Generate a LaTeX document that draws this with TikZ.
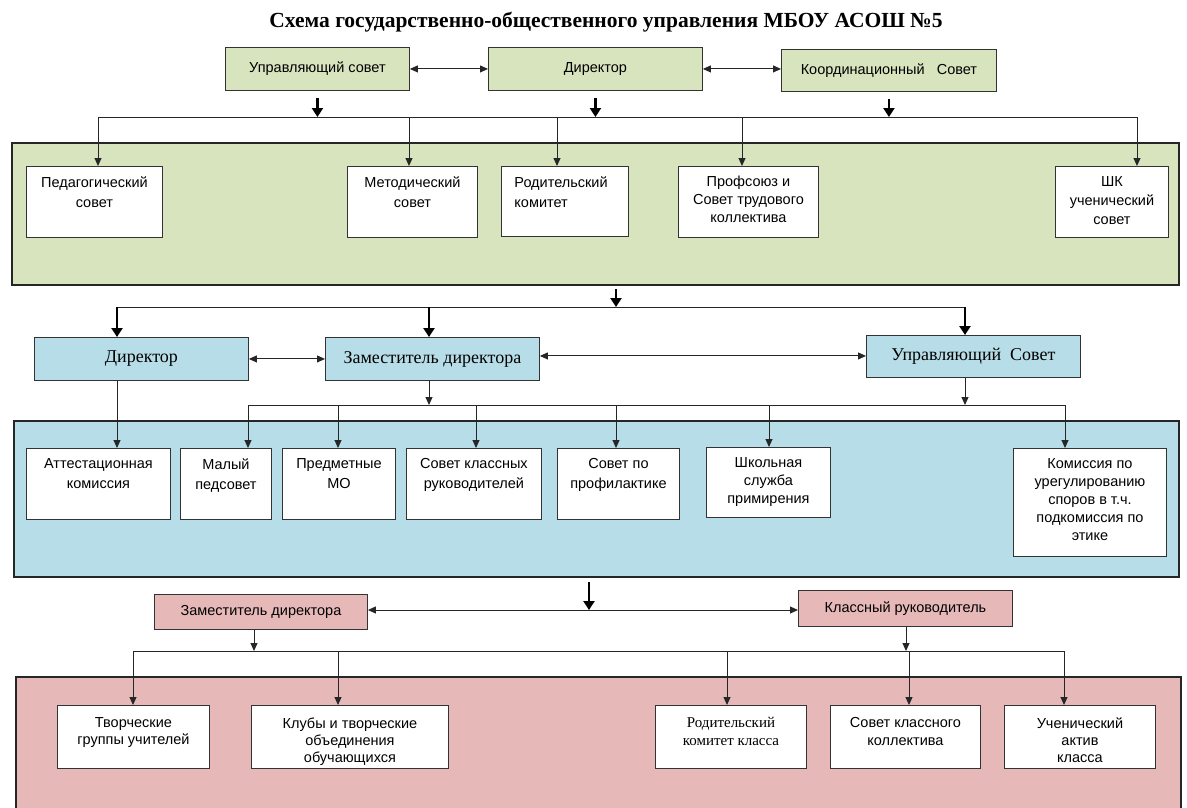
\documentclass[tikz,border=0pt]{standalone}
\usepackage{fontspec}
\setmainfont{Liberation Serif}
\newfontfamily\arialf{Liberation Sans}
\usetikzlibrary{arrows.meta}
\definecolor{gfill}{HTML}{D7E4BD}
\definecolor{bfill}{HTML}{B7DDE8}
\definecolor{pfill}{HTML}{E6B9B8}
\newcommand\topgap{10pt}
\newcommand\bxt[4]{\parbox[t][#2pt][t]{#1pt}{\centering\arialf\fontsize{14.5}{#4}\selectfont\vspace*{\topgap}#3}}
\newcommand\bxl[4]{\parbox[t][#2pt][t]{#1pt}{\raggedright\arialf\fontsize{14.5}{#4}\selectfont\vspace*{\topgap}\leftskip=13pt #3}}
\newcommand\bxs[4]{\parbox[t][#2pt][t]{#1pt}{\centering\fontsize{15}{#4}\selectfont\vspace*{\topgap}#3}}
\tikzset{
  band/.style={draw=black!85, line width=2pt, inner sep=0pt, anchor=north west},
  wbox/.style={draw=black!80, fill=white, line width=0.9pt, inner sep=0pt, anchor=north west},
  cbox/.style={draw=black!80, line width=0.9pt, inner sep=0pt, anchor=north west},
  arialtext/.style={font=\arialf\fontsize{14.5}{17}\selectfont},
  seriftext/.style={font=\fontsize{18}{21}\selectfont},
  conn/.style={draw=black!85, line width=1pt},
  arr/.style={conn, -{Triangle[length=8pt,width=7pt]}},
  darr/.style={conn, {Triangle[length=8pt,width=7pt]}-{Triangle[length=8pt,width=7pt]}},
  bigarr/.style={draw=black, line width=2.8pt, -{Triangle[length=9pt,width=11pt]}},
}
\begin{document}
\begin{tikzpicture}[x=1pt,y=-1pt]
\useasboundingbox (0,0) rectangle (1187,807);

% title
\node[font=\bfseries\fontsize{21.5}{25}\selectfont] (title) at (606,22)
  {Схема государственно-общественного управления МБОУ АСОШ №5};

% top row
\node[cbox, fill=gfill, arialtext, minimum width=184pt, minimum height=43pt] (ups1) at (225,47) {Управляющий совет};
\node[cbox, fill=gfill, arialtext, minimum width=214pt, minimum height=43pt] (dir1) at (488,47) {Директор};
\node[cbox, fill=gfill, arialtext, minimum width=215pt, minimum height=42pt] (koord) at (781,49) {Координационный\ \ \ Совет};
\draw[darr] (ups1.east) -- (ups1.east -| dir1.west);
\draw[darr] (dir1.east) -- (dir1.east -| koord.west);

% bus 1
\coordinate (b1l) at (98,117);
\coordinate (b1r) at (1137,117);
\draw[conn] (b1l) -- (b1r);
\foreach \n in {ups1,dir1,koord}
  \draw[bigarr] ([yshift=-7pt]\n.south) -- (\n.south |- b1l);

% green band
\node[band, fill=gfill, minimum width=1167pt, minimum height=142pt] (gband) at (11,142) {};
\node[wbox] (ped) at (26,166) {\bxt{136}{71}{Педагогический\\совет}{20}};
\node[wbox] (met) at (347,166) {\bxt{130}{71}{Методический\\совет}{20}};
\node[wbox] (rod) at (501,166) {\bxl{127}{70}{Родительский\\комитет}{20}};
\node[wbox] (prof) at (678,166) {\bxt{140}{71}{Профсоюз и\\Совет трудового\\коллектива}{18}};
\node[wbox] (shk) at (1055,166) {\bxt{113}{71}{ШК\\ученический\\совет}{19}};
\coordinate (d1) at (409,117);
\coordinate (d2) at (557,117);
\coordinate (d3) at (742,117);
\draw[arr] (b1l) -- (b1l |- ped.north);
\draw[arr] (d1) -- (d1 |- met.north);
\draw[arr] (d2) -- (d2 |- rod.north);
\draw[arr] (d3) -- (d3 |- prof.north);
\draw[arr] (b1r) -- (b1r |- shk.north);

% bus 2
\coordinate (b2l) at (117,307);
\coordinate (b2m) at (616,307);
\coordinate (b2z) at (429,307);
\coordinate (b2r) at (965,307);
\draw[conn] (b2l) -- (b2r);
\draw[bigarr] ([yshift=-3pt]b2m |- gband.south) -- (b2m);

% middle row
\node[cbox, fill=bfill, seriftext, minimum width=214pt, minimum height=43pt] (dir2) at (34,337) {Директор};
\node[cbox, fill=bfill, seriftext, minimum width=214pt, minimum height=43pt] (zam) at (325,337) {Заместитель директора};
\node[cbox, fill=bfill, seriftext, minimum width=214pt, minimum height=42pt] (ups2) at (866,335) {Управляющий\ \ Совет};
\draw[bigarr] (b2l) -- (b2l |- dir2.north);
\draw[bigarr] (b2z) -- (b2z |- zam.north);
\draw[bigarr] (b2r) -- (b2r |- ups2.north);
\draw[darr] (dir2.east) -- (dir2.east -| zam.west);
\draw[darr] ([yshift=3pt]zam.east) -- ([yshift=3pt]zam.east -| ups2.west);

% bus 3
\coordinate (b3l) at (248,405);
\coordinate (b3r) at (1065,405);
\coordinate (b3u) at (965,405);
\draw[conn] (b3l) -- (b3r);
\draw[arr] (b2z |- zam.south) -- (b2z |- b3l);
\draw[arr] (b3u |- ups2.south) -- (b3u);

% blue band
\node[band, fill=bfill, minimum width=1165pt, minimum height=156pt] (bband) at (13,420) {};
\node[wbox] (att) at (26,448) {\bxt{144}{71}{Аттестационная\\комиссия}{20}};
\node[wbox] (mal) at (180,448) {\bxt{91}{71}{Малый\\педсовет}{20}};
\node[wbox] (pred) at (282,448) {\bxt{113}{71}{Предметные\\МО}{20}};
\node[wbox] (skr) at (406,448) {\bxt{135}{71}{Совет классных\\руководителей}{20}};
\node[wbox] (sprof) at (557,448) {\bxt{122}{71}{Совет по\\профилактике}{20}};
\node[wbox] (shsl) at (706,447) {\bxt{124}{70}{Школьная\\служба\\примирения}{18}};
\node[wbox] (kom) at (1013,448) {\bxt{153}{108}{Комиссия по\\урегулированию\\споров в т.ч.\\подкомиссия по\\этике}{18}};
\coordinate (e2) at (338,405);
\coordinate (e3) at (476,405);
\coordinate (e4) at (616,405);
\coordinate (e5) at (769,405);
\draw[arr] (b2l |- dir2.south) -- (b2l |- att.north);
\draw[arr] (b3l) -- (b3l |- mal.north);
\draw[arr] (e2) -- (e2 |- pred.north);
\draw[arr] (e3) -- (e3 |- skr.north);
\draw[arr] (e4) -- (e4 |- sprof.north);
\draw[arr] (e5) -- (e5 |- shsl.north);
\draw[arr] (b3r) -- (b3r |- kom.north);

% bottom row
\node[cbox, fill=pfill, arialtext, minimum width=213pt, minimum height=35pt] (zam2) at (154,594) {Заместитель директора};
\node[cbox, fill=pfill, arialtext, minimum width=214pt, minimum height=36pt] (kr) at (798,590) {Классный руководитель};
\coordinate (b4m) at (589,610);
\draw[darr] (zam2.east |- b4m) -- (kr.west |- b4m);
\draw[bigarr] ([yshift=-4pt]b4m |- bband.south) -- (b4m);

% bus 5
\coordinate (b5l) at (133,651);
\coordinate (b5r) at (1064,651);
\coordinate (b5z) at (254,651);
\coordinate (b5k) at (906,651);
\draw[conn] (b5l) -- (b5r);
\draw[arr] (b5z |- zam2.south) -- (b5z);
\draw[arr] (b5k |- kr.south) -- (b5k);

% pink band
\renewcommand\topgap{12pt}
\node[band, fill=pfill, minimum width=1165pt, minimum height=140pt] (pband) at (15,676) {};
\node[wbox] (tg) at (57,705) {\bxt{152}{63}{Творческие\\группы учителей}{17}};
\node[wbox] (kl) at (251,705) {\bxt{197}{63}{Клубы и творческие\\объединения\\обучающихся}{17}};
\node[wbox] (rkk) at (655,705) {\bxs{151}{63}{Родительский\\комитет класса}{18}};
\node[wbox] (sk) at (830,705) {\bxt{150}{63}{Совет классного\\коллектива}{18}};
\node[wbox] (ua) at (1004,705) {\bxt{151}{63}{Ученический\\актив\\класса}{17}};
\coordinate (f2) at (338,651);
\coordinate (f3) at (727,651);
\coordinate (f4) at (909,651);
\draw[arr] (b5l) -- (b5l |- tg.north);
\draw[arr] (f2) -- (f2 |- kl.north);
\draw[arr] (f3) -- (f3 |- rkk.north);
\draw[arr] (f4) -- (f4 |- sk.north);
\draw[arr] (b5r) -- (b5r |- ua.north);
\end{tikzpicture}
\end{document}
